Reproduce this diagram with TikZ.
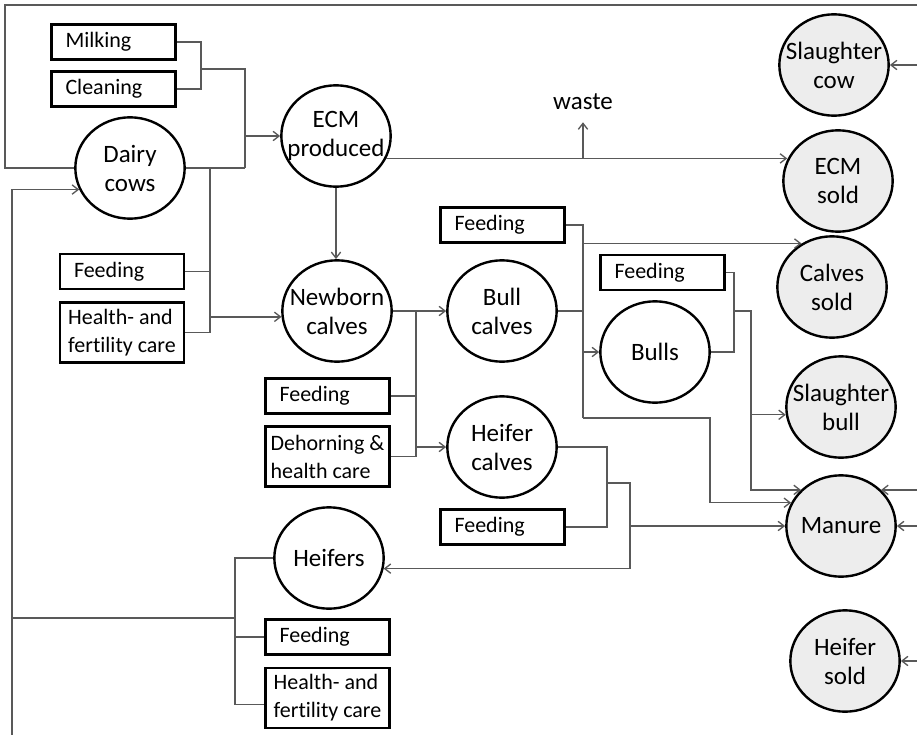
\documentclass[tikz,border=0pt]{standalone}
\usepackage{fontspec}
\setmainfont{Carlito}[Ligatures=NoCommon]
\usetikzlibrary{shapes.geometric,arrows.meta}
\tikzset{
  stock/.style={ellipse, draw, line width=1.8pt, minimum width=82pt, minimum height=76pt,
    inner xsep=-8pt, inner ysep=0pt, align=center, font=\fontsize{18.75}{21.75}\selectfont},
  sold/.style={stock, fill=black!7},
  task/.style={draw, line width=2.2pt, minimum width=93pt, minimum height=26.25pt,
    inner sep=0pt, align=left, font=\fontsize{16.5}{21}\selectfont},
  onetask/.style={task, text width=72pt},
  twotask/.style={task, minimum height=45pt},
  flow/.style={black!65, line width=1pt},
}
\begin{document}
\begin{tikzpicture}[x=0.75pt, y=-0.75pt, >={Straight Barb[length=4.5pt,width=7pt]}]
  \useasboundingbox (0,0) rectangle (917,735);
  \clip (0,0) rectangle (917,735);
  \path
    (130,168) node[stock] (dairy){Dairy\\cows}
    (336,136) node[stock] (ecmp){ECM\\produced}
    (337,311) node[stock] (newborn){Newborn\\calves}
    (502,311) node[stock] (bullc){Bull\\calves}
    (502,447) node[stock] (heiferc){Heifer\\calves}
    (655,352) node[stock] (bulls){Bulls}
    (329,558) node[stock] (heifers){Heifers}
    (834,65) node[sold] (scow){Slaughter\\cow}
    (838,181) node[sold] (ecms){ECM\\sold}
    (832,287) node[sold] (calvs){Calves\\sold}
    (841,407) node[sold] (sbull){Slaughter\\bull}
    (841,526) node[sold] (manure){Manure}
    (845,661) node[sold] (hsold){Heifer\\sold};
  \path
    (113.5,42) node[onetask] (milk){Milking}
    (113.5,89) node[onetask] (clean){Cleaning}
    (122,271.5) node[onetask] (feed1){Feeding}
    (122,332.5) node[twotask] (hcare1){Health- and\\fertility care}
    (327.5,396) node[onetask] (cfeed){Feeding}
    (327.5,456.5) node[twotask] (dehorn){Dehorning \&\\health care}
    (502.5,225) node[onetask] (bfeed){Feeding}
    (662.5,272.5) node[onetask] (bufeed){Feeding}
    (502.5,527) node[onetask] (hfeed){Feeding}
    (327.5,637) node[onetask] (hfeed2){Feeding}
    (327.5,698) node[twotask] (hcare2){Health- and\\fertility care}
    (583,102) node[inner sep=9pt, font=\fontsize{18.75}{21.75}\selectfont] (waste){waste};
  \coordinate (tl) at (5,5);
  \coordinate (tr) at (930,5);
  \coordinate (rr) at (930,0);
  \coordinate (bl) at (12,760);
  \coordinate (mc) at (201,69);
  \coordinate (ej) at (245,168);
  \coordinate (dj) at (210,168);
  \coordinate (nj) at (416,311);
  \coordinate (bj) at (583,418);
  \coordinate (mj) at (710,418);
  \coordinate (uj) at (734,311);
  \coordinate (sj) at (751,411);
  \coordinate (hj) at (607,483);
  \coordinate (kj) at (630,540);
  \coordinate (lj) at (235,618);
  \begin{scope}[flow]
    \draw[->] (dairy.west) -| (tl) -- (tr) |- (scow.east);
    \draw (milk.east) -| (mc) |- (clean.east);
    \draw (mc) -| (ej);
    \draw (dairy.east) -- (ej);
    \draw[->] (ej |- ecmp.west) -- (ecmp.west);
    \draw (dj) |- (hcare1.east);
    \draw (feed1.east) -- (feed1.east -| dj);
    \draw[->] (dj |- newborn.186) -- (newborn.186);
    \draw[->] (ecmp.south) -- (ecmp.south |- newborn.north);
    \draw[->] (ecmp.-24) -- (ecmp.-24 -| ecms.157);
    \draw[->] (waste |- ecmp.-24) -- (waste.south);
    \draw[->] (newborn.east) -- (bullc.west);
    \draw (nj) |- (dehorn.east);
    \draw (cfeed.east) -- (cfeed.east -| nj);
    \draw[->] (nj |- heiferc.west) -- (heiferc.west);
    \draw (bfeed.east) -| (bj);
    \draw (bullc.east) -- (bullc.east -| bj);
    \draw[->] (bj |- calvs.125) -- (calvs.125);
    \draw[->] (bj |- bulls.west) -- (bulls.west);
    \draw[->] (bj) -- (mj) |- (manure.155);
    \draw (bufeed.east) -| (uj |- bulls.east) -- (bulls.east);
    \draw[->] (uj) -| (sj) |- (manure.138);
    \draw[->] (sj |- sbull.188) -- (sbull.188);
    \draw (heiferc.east) -| (hj |- hfeed.east) -- (hfeed.east);
    \draw[->] (hj) -| (kj) |- (heifers.-11);
    \draw[->] (kj |- manure.west) -- (manure.west);
    \draw (heifers.west) -| (lj |- hcare2.186) -- (hcare2.186);
    \draw (hfeed2.west) -- (hfeed2.west -| lj);
    \draw (lj) -- (lj -| bl);
    \draw[->] (bl) |- (dairy.203);
    \draw[->] (rr |- manure.42) -- (manure.42);
    \draw[->] (rr |- manure.east) -- (manure.east);
    \draw[->] (rr |- hsold.east) -- (hsold.east);
  \end{scope}
\end{tikzpicture}
\end{document}
